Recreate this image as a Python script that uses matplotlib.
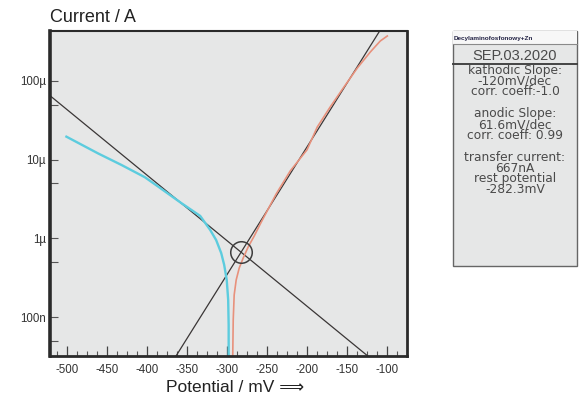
import matplotlib
matplotlib.use("Agg")
import matplotlib.pyplot as plt
import numpy as np
from matplotlib.patches import Rectangle

plt.rcParams['font.family'] = ['Liberation Sans', 'DejaVu Sans']

# Tafel fit results (from the side panel)
cath_slope = -120.0     # mV/dec
anod_slope = 61.6       # mV/dec
rest_pot = -282.3       # mV
transfer_cur = 667e-9   # A

# cathodic branch (measured)
cath_E = [-500.5, -460.9, -431.8, -402.5, -385.9, -356.8, -333.4, -320.9,
          -313.4, -307.1, -303.4, -300.2, -298.4, -297.8, -297.8]
cath_I = [1.96e-5, 1.20e-5, 8.57e-6, 5.98e-6, 4.55e-6, 2.80e-6, 1.93e-6, 1.28e-6,
          9.5e-7, 6.5e-7, 4.6e-7, 2.96e-7, 1.65e-7, 7.9e-8, 3.2e-8]

# anodic branch (measured)
anod_E = [-292.7, -292.1, -290.9, -288.4, -284.6, -279.6, -273.4, -265.9,
          -257.1, -248.4, -238.4, -220.9, -200.0, -187.1, -170.9, -154.6,
          -137.1, -120.9, -108.4, -99.6]
anod_I = [3.2e-8, 9.2e-8, 1.91e-7, 2.96e-7, 4.2e-7, 5.64e-7, 7.78e-7, 1.07e-6,
          1.61e-6, 2.36e-6, 3.67e-6, 7.18e-6, 1.33e-5, 2.6e-5, 4.68e-5, 8.15e-5,
          1.46e-4, 2.33e-4, 3.22e-4, 3.73e-4]

x_ticks = [-500, -450, -400, -350, -300, -250, -200, -150, -100]
y_ticks = [1e-7, 1e-6, 1e-5, 1e-4]
y_ticklabels = ['100n', '1µ', '10µ', '100µ']
y_minor = [5e-8, 5e-7, 5e-6, 5e-5]

sample_name = 'Decylaminofosfonowy+Zn'
date_str = 'SEP.03.2020'
panel_groups = [['kathodic Slope:', '-120mV/dec', 'corr. coeff:-1.0'],
                ['anodic Slope:', '61.6mV/dec', 'corr. coeff: 0.99'],
                ['transfer current:', '667nA', 'rest potential', '-282.3mV']]

W, H = 580, 398
fig = plt.figure(figsize=(W / 100, H / 100), dpi=100)
ax = fig.add_axes([50 / W, 1 - 356 / H, 357 / W, 325 / H])
ax.set_facecolor('#e6e7e7')

xlim = (-521, -75)
ax.set_xlim(xlim)
ax.set_yscale('log')
ax.set_ylim(10 ** -7.495, 10 ** -3.365)

# Tafel lines through the rest potential
E = np.linspace(xlim[0], xlim[1], 200)
ax.plot(E, transfer_cur * 10 ** ((E - rest_pot) / cath_slope), color='#3a3636', lw=0.9)
ax.plot(E, transfer_cur * 10 ** ((E - rest_pot) / anod_slope), color='#3a3636', lw=0.9)

ax.plot(cath_E, cath_I, color='#5cccde', lw=1.7)
ax.plot(anod_E, anod_I, color='#e8917c', lw=1.2)

ax.plot([rest_pot], [transfer_cur], marker='o', ms=15.5, mfc='none', mec='#3d3d3d', mew=1.1)

ax.set_xticks(x_ticks)
ax.set_xticklabels([str(v) for v in x_ticks])
ax.set_xticks(np.arange(-512.5, -75, 12.5), minor=True)
ax.set_yticks(y_ticks)
ax.set_yticklabels(y_ticklabels)
ax.set_yticks(y_minor, minor=True)
ax.yaxis.set_minor_formatter(plt.NullFormatter())

ax.tick_params(axis='x', which='major', direction='in', length=7, width=0.9,
               color='#444444', labelsize=8.3, pad=6, labelcolor='#333333')
ax.tick_params(axis='x', which='minor', direction='in', length=3.5, width=0.8, color='#555555')
ax.tick_params(axis='y', which='both', direction='in', length=6, width=0.8,
               color='#555555', labelsize=8.3, pad=3, labelcolor='#333333')

for side, lw in [('left', 2.6), ('bottom', 2.0), ('right', 2.0), ('top', 1.5)]:
    ax.spines[side].set_linewidth(lw)
    ax.spines[side].set_color('#2a2a2a')

fig.text(50 / W, 1 - 18 / H, 'Current / A', fontsize=13, ha='left', va='center', color='#222222')
fig.text(235 / W, 1 - 387 / H, 'Potential / mV \u27f9', fontsize=12.5, ha='center', va='center',
         color='#222222')

# info panel
bx = fig.add_axes([452 / W, 1 - 266 / H, 126 / W, 236 / H])
bx.set_xlim(452, 578)
bx.set_ylim(266, 30)
bx.axis('off')
bx.add_patch(Rectangle((452.8, 30.5), 124.5, 235, facecolor='#e6e7e7', edgecolor='#666666',
                       lw=1.0, clip_on=False))
bx.add_patch(Rectangle((453.3, 31), 123.5, 13, facecolor='#f7f7f7', edgecolor='none', clip_on=False))
bx.plot([452.8, 577.3], [44, 44], color='#8a8a8a', lw=0.8, clip_on=False)
bx.plot([452.8, 577.3], [64, 64], color='#444444', lw=1.4, clip_on=False)
bx.text(454, 38.5, sample_name, fontsize=4.6, fontweight='bold', ha='left', va='center', color='#222244')
bx.text(515, 55.5, date_str, fontsize=10.5, ha='center', va='center', color='#4a4a4a')

pitch = 10.9
row = 0
for grp in panel_groups:
    yc = 70 + (row + (len(grp) - 1) / 2) * pitch
    bx.text(515, yc, '\n'.join(grp), fontsize=8.8, ha='center', va='center', ma='center',
            linespacing=0.78, color='#4a4a4a', family='DejaVu Sans')
    row += len(grp) + 1

fig.savefig('out.png', dpi=100)
